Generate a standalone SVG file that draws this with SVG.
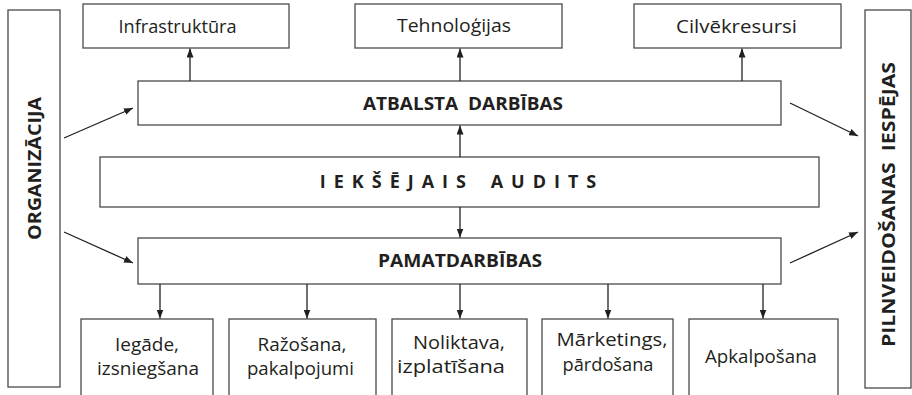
<svg xmlns="http://www.w3.org/2000/svg" width="912" height="395" viewBox="0 0 912 395">
<style>
.box{fill:#fff;stroke:#4a4a4a;stroke-width:1.3}
.t{font-family:"Open Sans","Noto Sans","Liberation Sans",sans-serif;font-size:19px;fill:#231f20;text-anchor:middle}
.b{font-weight:bold;font-size:18px}
.c{stroke:#231f20;stroke-width:1.3;fill:none;marker-end:url(#ah)}
</style>
<defs>
<marker id="ah" markerUnits="userSpaceOnUse" markerWidth="9" markerHeight="7" refX="9" refY="3.5" orient="auto">
<path d="M0,0 L9,3.5 L0,7 z" fill="#231f20"/>
</marker>
</defs>
<g id="organizacija"><rect class="box" x="8" y="10" width="52" height="377"/><text class="t b" transform="translate(40.5,168.5) rotate(-90)" textLength="143" lengthAdjust="spacingAndGlyphs">ORGANIZĀCIJA</text></g>
<g id="pilnveidosana"><rect class="box" x="865" y="10" width="46" height="378"/><text class="t b" transform="translate(894.5,204.5) rotate(-90)" textLength="285" lengthAdjust="spacingAndGlyphs">PILNVEIDOŠANAS&#160;&#160;IESPĒJAS</text></g>
<g id="infrastruktura"><rect class="box" x="83" y="4" width="206" height="44"/><text class="t" x="177.5" y="33" textLength="118" lengthAdjust="spacingAndGlyphs">Infrastruktūra</text></g>
<g id="tehnologijas"><rect class="box" x="355" y="4" width="207" height="44"/><text class="t" x="454" y="32" textLength="114" lengthAdjust="spacingAndGlyphs">Tehnoloģijas</text></g>
<g id="cilvekresursi"><rect class="box" x="634" y="4" width="207" height="44"/><text class="t" x="736.5" y="33" textLength="121" lengthAdjust="spacingAndGlyphs">Cilvēkresursi</text></g>
<g id="atbalsta"><rect class="box" x="138" y="81" width="643" height="44"/><text class="t b" x="463" y="110" textLength="200" lengthAdjust="spacingAndGlyphs">ATBALSTA&#160;&#160;DARBĪBAS</text></g>
<g id="audits"><rect class="box" x="100" y="157" width="719" height="50"/><text class="t b" x="462" y="188" letter-spacing="8" word-spacing="4">IEKŠĒJAIS AUDITS</text></g>
<g id="pamatdarbibas"><rect class="box" x="138" y="238" width="643" height="46"/><text class="t b" x="460" y="267" textLength="164" lengthAdjust="spacingAndGlyphs">PAMATDARBĪBAS</text></g>
<g id="iegade"><rect class="box" x="81" y="319" width="132" height="90"/><text class="t" x="147" y="351" textLength="64" lengthAdjust="spacingAndGlyphs">Iegāde,</text><text class="t" x="148" y="375" textLength="102" lengthAdjust="spacingAndGlyphs">izsniegšana</text></g>
<g id="razosana"><rect class="box" x="229" y="319" width="147" height="90"/><text class="t" x="302" y="351" textLength="89" lengthAdjust="spacingAndGlyphs">Ražošana,</text><text class="t" x="300.5" y="375" textLength="107" lengthAdjust="spacingAndGlyphs">pakalpojumi</text></g>
<g id="noliktava"><rect class="box" x="392" y="319" width="135" height="90"/><text class="t" x="459" y="349" textLength="92" lengthAdjust="spacingAndGlyphs">Noliktava,</text><text class="t" x="451" y="373" textLength="108" lengthAdjust="spacingAndGlyphs">izplatīšana</text></g>
<g id="marketings"><rect class="box" x="542" y="319" width="131" height="90"/><text class="t" x="612" y="346" textLength="111" lengthAdjust="spacingAndGlyphs">Mārketings,</text><text class="t" x="608" y="371" textLength="91" lengthAdjust="spacingAndGlyphs">pārdošana</text></g>
<g id="apkalposana"><rect class="box" x="689" y="319" width="149" height="90"/><text class="t" x="761" y="363" textLength="112" lengthAdjust="spacingAndGlyphs">Apkalpošana</text></g>
<g id="connectors">
<line class="c" x1="190" y1="81" x2="190" y2="48.5"/>
<line class="c" x1="460" y1="81" x2="460" y2="48.5"/>
<line class="c" x1="742" y1="81" x2="742" y2="48.5"/>
<line class="c" x1="460" y1="157" x2="460" y2="125.5"/>
<line class="c" x1="460" y1="207" x2="460" y2="237.5"/>
<line class="c" x1="64" y1="138" x2="133" y2="108"/>
<line class="c" x1="64" y1="232" x2="133" y2="263"/>
<line class="c" x1="790" y1="103" x2="858" y2="136"/>
<line class="c" x1="790" y1="263" x2="858" y2="232"/>
<line class="c" x1="160" y1="284" x2="160" y2="318.5"/>
<line class="c" x1="307" y1="284" x2="307" y2="318.5"/>
<line class="c" x1="460" y1="284" x2="460" y2="318.5"/>
<line class="c" x1="608" y1="284" x2="608" y2="318.5"/>
<line class="c" x1="763" y1="284" x2="763" y2="318.5"/>
</g>
</svg>
